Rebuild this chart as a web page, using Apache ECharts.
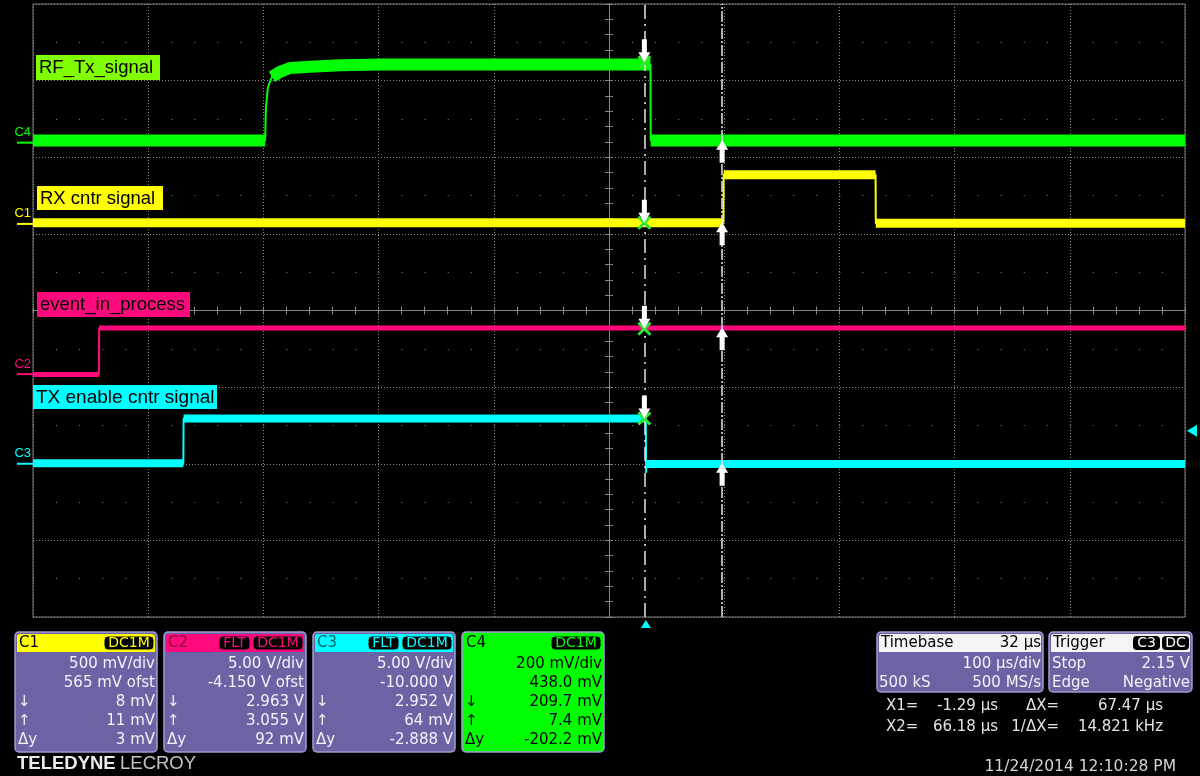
<!DOCTYPE html>
<html><head><meta charset="utf-8">
<script src="https://cdn.jsdelivr.net/npm/echarts@6/dist/echarts.min.js"></script>
<style>html,body{margin:0;padding:0;background:#000;overflow:hidden}#c{width:1200px;height:776px}</style>
</head><body><div id="c"></div>
<script>
// ---- time base (µs) ----
const timeMin = -532, timeMax = 468;
const cursorTimes = [-1.29, 66.18];
const triggerTime = 0, triggerLevel = 2.15;

// ---- channel settings ----
const channelNames = ['C1', 'C2', 'C3', 'C4'];
const voltsPerDiv = [0.5, 5, 5, 0.2];
const offsets = [0.565, -4.15, -10, 0.438];
const traceLabels = ['RX cntr signal', 'event_in_process', 'TX enable cntr signal', 'RF_Tx_signal'];

// ---- traces (time µs, volts) ----
const c1Time = [-532, 67.3, 67.5, 199.4, 199.6, 468];
const c1Volt = [0.008, 0.008, 0.32, 0.32, 0.004, 0.004];
const c2Time = [-532, -474.8, -474.6, 468];
const c2Volt = [-0.03, -0.03, 3.0, 3.0];
const c3Time = [-532, -401.5, -401.3, 0, 0.2, 0.6, 468];
const c3Volt = [0.03, 0.03, 2.96, 2.96, -0.6, -0.01, -0.01];
const c4Time = [-532, -330.5, -329.8, -328.0, -324.6, -317.6, -308.9, -291.6, -265.5, -230.8, 4.0, 4.2, 468];
const c4Volt = [0.006, 0.006, 0.093, 0.146, 0.172, 0.185, 0.195, 0.198, 0.202, 0.204, 0.204, 0.006, 0.006];

// ---- cursor readouts ----
const cursorX1Values = [0.008, 2.963, 2.952, 0.2097];
const cursorX2Values = [0.011, 3.055, 0.064, 0.0074];

// ---- panel texts ----
const panelRows = [
  ['500 mV/div', '565 mV ofst', '8 mV', '11 mV', '3 mV'],
  ['5.00 V/div', '-4.150 V ofst', '2.963 V', '3.055 V', '92 mV'],
  ['5.00 V/div', '-10.000 V', '2.952 V', '64 mV', '-2.888 V'],
  ['200 mV/div', '438.0 mV', '209.7 mV', '7.4 mV', '-202.2 mV']
];
const panelBadges = [['DC1M'], ['FLT', 'DC1M'], ['FLT', 'DC1M'], ['DC1M']];

const colors = ['#ffff00', '#ff0a7c', '#00ffff', '#00ff00'];
const labelFills = ['#ffff00', '#ff0a7c', '#00ffff', '#80ff00'];
const bandWidths = [9, 5, 8, 12];
const traceTimes = [c1Time, c2Time, c3Time, c4Time];
const traceVolts = [c1Volt, c2Volt, c3Volt, c4Volt];

const FONT = '"DejaVu Sans", sans-serif';
const LFONT = '"Liberation Sans", Arial, sans-serif';
const GRID_COL = '#858585';

function pairs(ts, vs) { return ts.map((t, i) => [t, vs[i]]); }
function bandPairs(ts, vs) {
  const out = [];
  ts.forEach((t, i) => {
    if (i > 0 && t - ts[i - 1] <= 3.5) out.push([t, null]);
    out.push([t, vs[i]]);
  });
  return out;
}

const gridRect = { left: 33, top: 4, width: 1152, height: 613 };
const chart = echarts.init(document.getElementById('c'), null, { renderer: 'canvas' });

const tickStyle = { color: GRID_COL, width: 1 };
const xAxes = [
  { gridIndex: 0, type: 'value', min: -5, max: 5, interval: 1, axisLabel: { show: false },
    splitLine: { show: true, lineStyle: { color: GRID_COL, type: [1, 2], width: 1 } },
    axisLine: { show: true, onZero: true, lineStyle: tickStyle },
    axisTick: { show: true, inside: true, length: 4, lineStyle: tickStyle },
    minorTick: { show: true, splitNumber: 5, length: 4, lineStyle: tickStyle } },
  { gridIndex: 1, type: 'value', min: -5, max: 5, interval: 1, axisLabel: { show: false },
    splitLine: { show: false },
    axisLine: { show: true, onZero: true, lineStyle: tickStyle },
    axisTick: { show: true, inside: false, length: 4, lineStyle: tickStyle },
    minorTick: { show: true, splitNumber: 5, length: 4, lineStyle: tickStyle } },
  { gridIndex: 2, type: 'value', min: -5, max: 5, interval: 1, show: false },
  { gridIndex: 3, type: 'value', min: timeMin, max: timeMax, show: false, axisLine: { onZero: false } }
];
const yAxes = [
  { gridIndex: 0, type: 'value', min: -4, max: 4, interval: 1, axisLabel: { show: false },
    splitLine: { show: true, lineStyle: { color: GRID_COL, type: [1, 2], width: 1 } },
    minorTick: { show: false, splitNumber: 2 },
    minorSplitLine: { show: true, lineStyle: { color: GRID_COL, type: [1, 22.04], width: 1 } },
    axisLine: { show: true, onZero: true, lineStyle: tickStyle },
    axisTick: { show: true, inside: true, length: 4, lineStyle: tickStyle } },
  { gridIndex: 1, type: 'value', min: -4, max: 4, interval: 1, axisLabel: { show: false },
    splitLine: { show: false },
    axisLine: { show: true, onZero: true, lineStyle: tickStyle },
    axisTick: { show: true, inside: false, length: 4, lineStyle: tickStyle },
    minorTick: { show: true, splitNumber: 5, length: 4, lineStyle: tickStyle } },
  { gridIndex: 2, type: 'value', min: -4, max: 4, interval: 1, axisLabel: { show: false },
    splitLine: { show: false },
    axisLine: { show: true, onZero: true, lineStyle: tickStyle },
    axisTick: { show: true, inside: true, length: 4, lineStyle: tickStyle },
    minorTick: { show: true, splitNumber: 5, length: 4, lineStyle: tickStyle } }
];
channelNames.forEach((n, k) => {
  yAxes.push({ gridIndex: 3, type: 'value', show: false, axisLine: { onZero: false },
    min: -4 * voltsPerDiv[k] - offsets[k], max: 4 * voltsPerDiv[k] - offsets[k] });
});

const DOWN = 'path://M3.5,0L8.5,0L8.5,13L12,13L6,23L0,13L3.5,13Z';
const UP = 'path://M6,0L12,10L8.5,10L8.5,23L3.5,23L3.5,10L0,10Z';
const XMARK = 'path://M0,2L2,0L7,5L12,0L14,2L9,7L14,12L12,14L7,9L2,14L0,12L5,7Z';

const series = [];
channelNames.forEach((n, k) => {
  series.push({ type: 'line', name: n + ' edge', xAxisIndex: 3, yAxisIndex: 3 + k,
    data: pairs(traceTimes[k], traceVolts[k]), symbol: 'none', silent: true, z: 3,
    lineStyle: { color: colors[k], width: 2 } });
  series.push({ type: 'line', name: n, xAxisIndex: 3, yAxisIndex: 3 + k, connectNulls: false,
    data: bandPairs(traceTimes[k], traceVolts[k]), symbol: 'none', silent: true, z: 3,
    lineStyle: { color: colors[k], width: bandWidths[k], cap: 'butt', join: 'round' } });
});
// cursor lines
series.push({ type: 'line', xAxisIndex: 3, yAxisIndex: 3, data: [], silent: true, z: 4,
  markLine: { silent: true, symbol: ['none', 'none'], label: { show: false }, animation: false,
    lineStyle: { color: '#e6e6e6', width: 1.5 },
    data: [{ xAxis: cursorTimes[0], lineStyle: { type: [14, 5, 2, 5] } },
           { xAxis: cursorTimes[1], lineStyle: { type: [11, 2, 2, 2] } }] } });
channelNames.forEach((n, k) => {
  series.push({ type: 'scatter', xAxisIndex: 3, yAxisIndex: 3 + k, silent: true, z: 5,
    data: [[cursorTimes[0], cursorX1Values[k]]], symbol: XMARK, symbolSize: [14, 14],
    itemStyle: { color: '#2ee82e', opacity: 1 } });
  series.push({ type: 'scatter', xAxisIndex: 3, yAxisIndex: 3 + k, silent: true, z: 6,
    data: [[cursorTimes[0], cursorX1Values[k]]], symbol: DOWN, symbolSize: [12, 23],
    symbolOffset: [0, '-50%'], itemStyle: { color: '#ffffff', opacity: 1 } });
  series.push({ type: 'scatter', xAxisIndex: 3, yAxisIndex: 3 + k, silent: true, z: 6,
    data: [[cursorTimes[1], cursorX2Values[k]]], symbol: UP, symbolSize: [12, 23],
    symbolOffset: [0, '50%'], itemStyle: { color: '#ffffff', opacity: 1 } });
});

chart.setOption({
  backgroundColor: '#000',
  animation: false,
  grid: [
    Object.assign({ show: true, borderColor: '#7c7c7c', borderWidth: 1, backgroundColor: 'transparent' }, gridRect),
    Object.assign({}, gridRect), Object.assign({}, gridRect), Object.assign({}, gridRect)
  ],
  xAxis: xAxes,
  yAxis: yAxes,
  series: series
});

// ---------- graphic overlay ----------
function txt(text, x, y, fill, size, align, font, weight) {
  return { type: 'text', silent: true, z: 100,
    style: { text: text, x: x, y: y, fill: fill, font: (weight || 'normal') + ' ' + size + 'px ' + (font || FONT),
      textAlign: align || 'left', textVerticalAlign: 'middle', align: align || 'left', verticalAlign: 'middle' } };
}
function rect(x, y, w, h, fill, stroke, lw, r) {
  return { type: 'rect', silent: true, z: 99, shape: { x: x, y: y, width: w, height: h, r: r || 0 },
    style: { fill: fill, stroke: stroke || null, lineWidth: lw || 0 } };
}
const g = [];

// trace labels
const labelBoxes = [
  { x: 37, y: 186, w: 126, h: 24 },
  { x: 37, y: 292, w: 153, h: 25 },
  { x: 33, y: 385, w: 184, h: 24 },
  { x: 36, y: 55, w: 124, h: 25 }
];
const labelSizes = [18.5, 18.5, 19, 18.5];
channelNames.forEach((n, k) => {
  const b = labelBoxes[k];
  g.push(rect(b.x, b.y, b.w, b.h, labelFills[k]));
  g.push(txt(traceLabels[k], b.x + 3, b.y + b.h / 2 + 0.5, '#000', labelSizes[k], 'left', LFONT));
  // ground markers on the left
  const y0 = chart.convertToPixel({ yAxisIndex: 3 + k }, 0);
  g.push({ type: 'line', silent: true, z: 100, shape: { x1: 17, y1: y0, x2: 33, y2: y0 },
    style: { stroke: colors[k], lineWidth: 2 } });
  g.push(txt(n, 31, y0 - 10, colors[k], 13, 'right', LFONT));
});

// trigger markers
const tx = chart.convertToPixel({ xAxisIndex: 3 }, triggerTime);
g.push({ type: 'polygon', silent: true, z: 100, shape: { points: [[tx - 5, 628], [tx + 5, 628], [tx, 620]] }, style: { fill: '#00ffff' } });
const ty = chart.convertToPixel({ yAxisIndex: 5 }, triggerLevel);
g.push({ type: 'polygon', silent: true, z: 100, shape: { points: [[1187, ty], [1197, ty - 6], [1197, ty + 6]] }, style: { fill: '#00ffff' } });

// channel panels
const PURPLE = '#6b63a3', PBORDER = '#a29cd4';
const panelX = [15, 164, 313, 462];
const headText = ['#000', '#8a0044', '#006a6a', '#000'];
const rowY = [664, 683, 702, 721, 740];
channelNames.forEach((n, k) => {
  const x = panelX[k], y = 632, w = 142, h = 120;
  const isC4 = k === 3;
  g.push(rect(x, y, w, h, isC4 ? '#00ff00' : PURPLE, PBORDER, 1.5, 4));
  g.push(rect(x + 2, y + 2, w - 4, 18, colors[k], null, 0, [3, 3, 0, 0]));
  g.push(txt(n, x + 4, y + 11, headText[k], 15));
  const badges = panelBadges[k];
  let bx = x + w - 3;
  for (let i = badges.length - 1; i >= 0; i--) {
    const bw = badges[i] === 'FLT' ? 31 : 50;
    bx -= bw;
    g.push(rect(bx, y + 4, bw, 14, '#000', colors[k], 1, 4));
    g.push(txt(badges[i], bx + bw / 2, y + 11.5, colors[k], 14, 'center'));
    bx -= 3;
  }
  const tc = isC4 ? '#000' : '#f2f2f8';
  panelRows[k].forEach((r, i) => g.push(txt(r, x + w - 2, rowY[i], tc, 15, 'right')));
  g.push(txt('↓', x + 3, rowY[2], tc, 15));
  g.push(txt('↑', x + 3, rowY[3], tc, 15));
  g.push(txt('Δy', x + 3, rowY[4], tc, 15));
});

// timebase panel
g.push(rect(877, 632, 166, 60, PURPLE, PBORDER, 1.5, 4));
g.push(rect(879, 634, 162, 18, '#f4f4f4', null, 0, [3, 3, 0, 0]));
g.push(txt('Timebase', 881, 643, '#000', 15));
g.push(txt('32 µs', 1041, 643, '#000', 15, 'right'));
g.push(txt('100 µs/div', 1041, 664, '#f2f2f8', 15, 'right'));
g.push(txt('500 kS', 879, 683, '#f2f2f8', 15));
g.push(txt('500 MS/s', 1041, 683, '#f2f2f8', 15, 'right'));
// trigger panel
g.push(rect(1049, 632, 143, 60, PURPLE, PBORDER, 1.5, 4));
g.push(rect(1051, 634, 139, 18, '#f4f4f4', null, 0, [3, 3, 0, 0]));
g.push(txt('Trigger', 1053, 643, '#000', 15));
g.push(rect(1133, 636, 27, 14, '#000', null, 0, 4));
g.push(txt('C3', 1146.5, 643.5, '#fff', 14, 'center'));
g.push(rect(1162, 636, 27, 14, '#000', null, 0, 4));
g.push(txt('DC', 1175.5, 643.5, '#fff', 14, 'center'));
g.push(txt('Stop', 1052, 664, '#f2f2f8', 15));
g.push(txt('2.15 V', 1190, 664, '#f2f2f8', 15, 'right'));
g.push(txt('Edge', 1052, 683, '#f2f2f8', 15));
g.push(txt('Negative', 1190, 683, '#f2f2f8', 15, 'right'));

// cursor readouts
const RC = '#e4e4e4';
g.push(txt('X1=', 886, 706, RC, 15));
g.push(txt('-1.29 µs', 998, 706, RC, 15, 'right'));
g.push(txt('ΔX=', 1059, 706, RC, 15, 'right'));
g.push(txt('67.47 µs', 1163, 706, RC, 15, 'right'));
g.push(txt('X2=', 886, 727, RC, 15));
g.push(txt('66.18 µs', 998, 727, RC, 15, 'right'));
g.push(txt('1/ΔX=', 1059, 727, RC, 15, 'right'));
g.push(txt('14.821 kHz', 1163, 727, RC, 15, 'right'));
g.push(txt('11/24/2014 12:10:28 PM', 1176, 767, '#d4d4d4', 15.5, 'right'));

// brand
g.push(txt('TELEDYNE', 17, 764, '#ececec', 18.5, 'left', LFONT, 'bold'));
g.push(txt('LECROY', 120, 764, '#c4c4c4', 18.5, 'left', LFONT));

chart.setOption({ graphic: g });
</script>
</body></html>
